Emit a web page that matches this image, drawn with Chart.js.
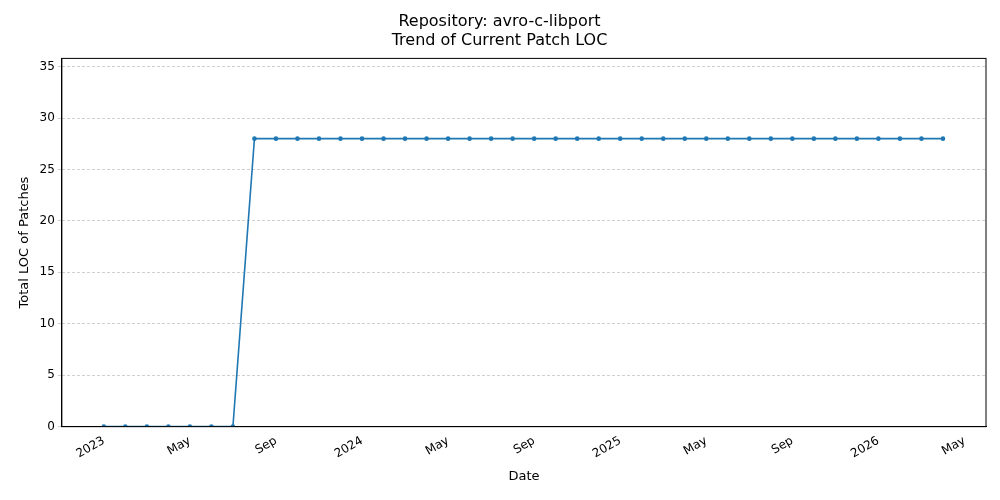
<!DOCTYPE html>
<html>
<head>
<meta charset="utf-8">
<script src="https://cdn.jsdelivr.net/npm/chart.js@4"></script>
<style>
html, body { margin: 0; padding: 0; background: #fff; }
#wrap { width: 1000px; height: 500px; }
</style>
</head>
<body>
<div id="wrap"><canvas id="locChart" width="1000" height="500"></canvas></div>
<script>
// month index 0 = Jan 2023
const months = Array.from({ length: 40 }, (_, i) => i);
const locValues = [0, 0, 0, 0, 0, 0, 0,
    28, 28, 28, 28, 28, 28, 28, 28, 28, 28, 28, 28, 28, 28, 28, 28, 28,
    28, 28, 28, 28, 28, 28, 28, 28, 28, 28, 28, 28, 28, 28, 28, 28];
const tickMonths = [0, 4, 8, 12, 16, 20, 24, 28, 32, 36, 40];
const tickLabels = ['2023', 'May', 'Sep', '2024', 'May', 'Sep', '2025', 'May', 'Sep', '2026', 'May'];

const ctx = document.getElementById('locChart').getContext('2d');
Chart.defaults.font.family = 'DejaVu Sans';
Chart.defaults.color = '#000';

new Chart(ctx, {
    type: 'line',
    data: {
        datasets: [{
            data: months.map((m, i) => ({ x: m, y: locValues[i] })),
            borderColor: '#1f77b4',
            backgroundColor: '#1f77b4',
            borderWidth: 1.6,
            pointRadius: 1.5,
            tension: 0
        }]
    },
    options: {
        responsive: false,
        animation: false,
        layout: { padding: { left: 13, right: 14, top: 4, bottom: 12 } },
        plugins: {
            legend: { display: false },
            tooltip: { enabled: false },
            title: {
                display: true,
                text: ['Repository: avro-c-libport', 'Trend of Current Patch LOC'],
                font: { size: 16, weight: 'normal' },
                padding: { top: 8, bottom: 8 }
            }
        },
        scales: {
            x: {
                type: 'linear',
                min: -1.95,
                max: 41,
                grid: { display: false, drawTicks: true, tickLength: 4 },
                border: { color: '#000' },
                afterBuildTicks: axis => { axis.ticks = tickMonths.map(v => ({ value: v })); },
                ticks: {
                    autoSkip: false,
                    maxRotation: 30,
                    minRotation: 30,
                    font: { size: 12 },
                    callback: v => tickLabels[tickMonths.indexOf(v)]
                },
                title: { display: true, text: 'Date', font: { size: 13 } }
            },
            y: {
                min: 0,
                max: 35.8,
                afterBuildTicks: axis => { axis.ticks = [0, 5, 10, 15, 20, 25, 30, 35].map(v => ({ value: v })); },
                grid: { color: '#b0b0b0', lineWidth: 0.6, tickLength: 4 },
                border: { color: '#000', dash: [3, 2] },
                ticks: { font: { size: 12 } },
                title: { display: true, text: 'Total LOC of Patches', font: { size: 13 } }
            }
        }
    },
    plugins: [{
        id: 'frame',
        afterDraw(chart) {
            const a = chart.chartArea, c = chart.ctx;
            c.save();
            c.strokeStyle = '#000';
            c.lineWidth = 1;
            c.strokeRect(a.left, a.top, a.right - a.left, a.bottom - a.top);
            c.restore();
        }
    }]
});
</script>
</body>
</html>
